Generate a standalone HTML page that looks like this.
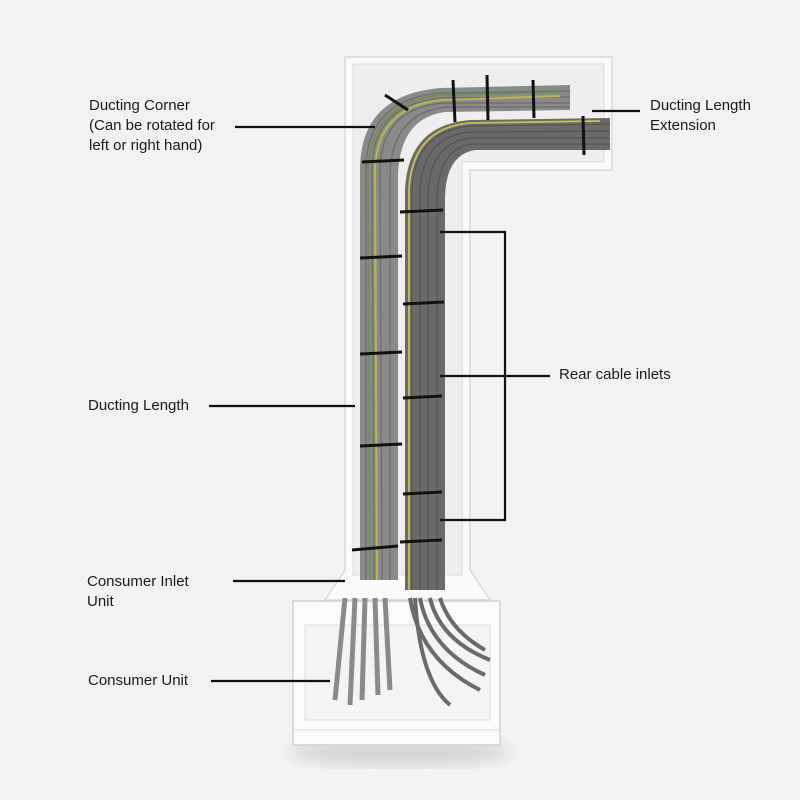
<!DOCTYPE html>
<html><head><meta charset="utf-8"><style>
html,body{margin:0;padding:0;background:#f2f2f2;}
.wrap{position:relative;width:800px;height:800px;overflow:hidden;background:#f2f2f2;font-family:"Liberation Sans",sans-serif;}
.lbl{position:absolute;font-size:15px;color:#1a1a1a;line-height:20px;}
</style></head><body><div class="wrap">
<svg width="800" height="800" style="position:absolute;left:0;top:0">
<defs>
<filter id="bl"><feGaussianBlur stdDeviation="8"/></filter>
</defs>
<ellipse cx="400" cy="752" rx="110" ry="14" fill="#000" opacity="0.12" filter="url(#bl)"/>
<!-- duct body -->
<path d="M345 57 L612 57 L612 170 L470 170 L470 570 L490 600 L325 600 L345 570 Z" fill="#fafafa" stroke="#d8d8d8" stroke-width="1.5"/>
<path d="M353 64 L604 64 L604 162 L462 162 L462 575 L353 575 Z" fill="#eeeeee" stroke="#dcdcdc"/>
<!-- left bundle -->
<path d="M360 580 L360 170 Q360 95 440 88 L570 85 L570 110 L445 112 Q400 118 398 175 L398 580 Z" fill="#8a8a8a"/>
<g stroke="#6c6c6c" stroke-width="1.2" fill="none">
<path d="M366 580 L366 170 Q366 100 440 93 L570 91"/>
<path d="M374 580 L372 170 Q372 104 442 98 L570 97"/>
<path d="M382 580 L380 172 Q380 108 444 103 L570 103"/>
<path d="M390 580 L390 174 Q392 113 446 107 L570 107"/>
</g>
<path d="M377 580 L375 172 Q376 106 443 100 L560 96" stroke="#b7b84a" stroke-width="2" fill="none"/>
<path d="M370 580 L368 172 Q370 102 441 95 L560 92" stroke="#6d8f4a" stroke-width="1.5" fill="none"/>
<!-- right bundle -->
<path d="M405 590 L405 190 Q408 125 470 120 L610 118 L610 150 L475 150 Q445 155 445 200 L445 590 Z" fill="#6a6a6a"/>
<g stroke="#555" stroke-width="1.2" fill="none">
<path d="M412 590 L412 190 Q415 130 472 126 L610 124"/>
<path d="M420 590 L420 192 Q422 135 472 132 L610 131"/>
<path d="M428 590 L428 194 Q430 140 474 138 L610 138"/>
<path d="M437 590 L437 196 Q440 145 475 144 L610 144"/>
</g>
<path d="M409 590 L409 190 Q412 128 470 123 L600 121" stroke="#c8c24a" stroke-width="1.8" fill="none"/>
<!-- ties -->
<g stroke="#111" stroke-width="3" fill="none">
<path d="M362 162 L404 160"/><path d="M400 212 L443 210"/><path d="M360 258 L402 256"/>
<path d="M403 304 L444 302"/><path d="M360 354 L402 352"/><path d="M403 398 L442 396"/>
<path d="M360 446 L402 444"/><path d="M403 494 L442 492"/><path d="M352 550 L398 546"/><path d="M400 542 L442 540"/>
<path d="M385 95 L408 110"/><path d="M453 80 L455 122"/><path d="M487 75 L488 120"/><path d="M533 80 L534 118"/><path d="M583 116 L584 155"/>
</g>
<!-- consumer unit -->
<rect x="293" y="601" width="207" height="144" fill="#fbfbfb" stroke="#d0d0d0" stroke-width="1.5"/>
<rect x="305" y="625" width="185" height="95" fill="#f4f4f4" stroke="#dcdcdc"/>
<path d="M293 730 L500 730" stroke="#ddd"/>
<g stroke="#8a8a8a" stroke-width="5" fill="none">
<path d="M345 598 L335 700"/><path d="M355 598 L350 705"/><path d="M365 598 L362 700"/><path d="M375 598 L378 695"/><path d="M385 598 L390 690"/>
</g>
<g stroke="#6a6a6a" stroke-width="4" fill="none">
<path d="M410 598 Q420 660 480 690"/><path d="M420 598 Q430 650 485 675"/><path d="M430 598 Q440 640 490 660"/><path d="M415 598 Q420 680 450 705"/><path d="M440 598 Q450 630 485 650"/>
</g>
<!-- leader lines -->
<g stroke="#111" stroke-width="2.2" fill="none">
<path d="M235 127 L375 127"/><path d="M592 111 L640 111"/>
<path d="M209 406 L355 406"/><path d="M233 581 L345 581"/><path d="M211 681 L330 681"/>
<path d="M440 232 L505 232 L505 520 L440 520"/><path d="M440 376 L550 376"/>
</g>
</svg>
<div class="lbl" style="left:89px;top:96px">Ducting Corner<br>(Can be rotated for<br>left or right hand)</div>
<div class="lbl" style="left:650px;top:96px">Ducting Length<br>Extension</div>
<div class="lbl" style="left:559px;top:365px">Rear cable inlets</div>
<div class="lbl" style="left:88px;top:396px">Ducting Length</div>
<div class="lbl" style="left:87px;top:572px">Consumer Inlet<br>Unit</div>
<div class="lbl" style="left:88px;top:671px">Consumer Unit</div>
</div></body></html>
